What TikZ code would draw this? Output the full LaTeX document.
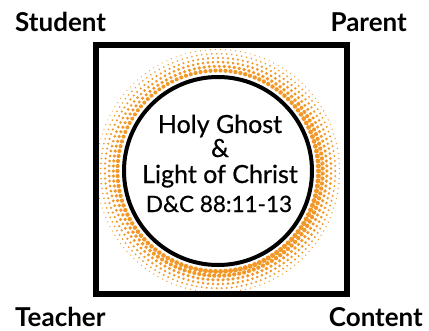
\documentclass[tikz,border=0pt]{standalone}
\usepackage{fontspec}
\setmainfont{Lato}
\newfontfamily\latomed{Lato}[FakeBold=0.6]
\definecolor{dotorange}{RGB}{242,152,40}
\begin{document}
\begin{tikzpicture}[x=1pt,y=-1pt,
  corner/.style={font=\fontsize{26}{26}\selectfont\bfseries, inner sep=0pt},
  centre/.style={font=\latomed\fontsize{25}{25}\selectfont, inner sep=0pt, anchor=base},
  ref/.style={font=\latomed\fontsize{22.5}{22.5}\selectfont, inner sep=0pt, anchor=base},
  dot/.style={fill=dotorange}]
\useasboundingbox (0,0) rectangle (429,330);
% halftone ring
\foreach \ringi in {0,...,5}{
  \pgfmathsetmacro\ringr{100.5+4.2*\ringi}
  \pgfmathsetmacro\ringsz{2.3-0.33*\ringi}
  \pgfmathtruncatemacro\ringn{2*pi*\ringr/5}
  \pgfmathsetmacro\ringst{360/\ringn}
  \foreach \dotk in {1,...,\ringn}{
    \pgfmathsetmacro\dotang{\ringst*(\dotk+0.5*\ringi)}
    \pgfmathsetmacro\dotsz{max(0.45,\ringsz*(1+0.12*cos(\dotang-45)))}
    \fill[dot] ({218+\ringr*cos(\dotang)},{171+\ringr*sin(\dotang)}) circle[radius=\dotsz pt];
  }
}
\node[draw, line width=5.5pt, minimum width=251pt, minimum height=249pt, inner sep=0pt] (frame) at (221.5,169.5) {};
\node[circle, draw, line width=4pt, minimum size=188pt, inner sep=0pt] (core) at (218,171) {};
\node[centre] (hg) at (220,133) {Holy Ghost};
\node[centre] (amp) at (220,157) {\&};
\node[centre] (loc) at (220,183) {Light of Christ};
\node[ref] (dc) at (219,212) {D\&C 88:11-13};
\node[corner, anchor=base west] (student) at (15,31) {Student};
\node[corner, anchor=base east] (parent) at (407,31) {Parent};
\node[corner, anchor=base west] (teacher) at (15,326) {Teacher};
\node[corner, anchor=base east] (content) at (423,326) {Content};
\end{tikzpicture}
\end{document}
